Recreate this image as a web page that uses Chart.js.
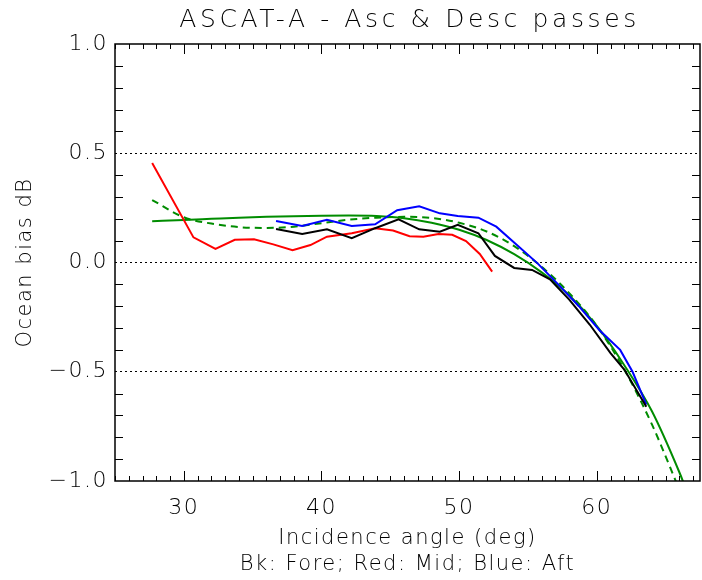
<!DOCTYPE html>
<html>
<head>
<meta charset="utf-8">
<script src="https://cdn.jsdelivr.net/npm/chart.js@4"></script>
<style>
  html, body { margin: 0; padding: 0; background: #fff; }
  #wrap { width: 702px; height: 580px; }
</style>
</head>
<body>
<div id="wrap"><canvas id="c" width="702" height="580"></canvas></div>
<script>
const titleText = 'ASCAT-A - Asc & Desc passes'
const xTitle = ['Incidence angle (deg)', 'Bk: Fore; Red: Mid; Blue: Aft']
const yTitle = 'Ocean bias dB'

const xTicks = [30, 40, 50, 60]
const yTicks = [-1.0, -0.5, 0.0, 0.5, 1.0]
const yTickLabels = ['\u22121.0', '\u22120.5', '0.0', '0.5', '1.0']

// Fore beam (black)
const foreAngle = [36.7, 38.6, 40.4, 42.2, 43.9, 45.6, 47.1, 48.6, 49.9, 51.4, 52.6, 54.0, 55.3, 56.6, 58.0, 59.5, 61.0, 62.0, 63.6]
const foreBias  = [0.153, 0.130, 0.152, 0.111, 0.157, 0.198, 0.152, 0.141, 0.172, 0.134, 0.030, -0.025, -0.034, -0.077, -0.170, -0.285, -0.415, -0.490, -0.660]

// Mid beam (red)
const midAngle = [27.7, 30.7, 32.3, 33.7, 35.1, 36.5, 37.9, 39.2, 40.4, 42.2, 43.9, 45.2, 46.4, 47.4, 48.5, 49.5, 50.5, 51.5, 52.4]
const midBias  = [0.455, 0.115, 0.062, 0.104, 0.106, 0.083, 0.056, 0.080, 0.118, 0.134, 0.157, 0.146, 0.120, 0.118, 0.130, 0.127, 0.098, 0.039, -0.042]

// Aft beam (blue)
const aftAngle = [36.7, 38.6, 40.4, 42.2, 43.9, 45.5, 47.1, 48.6, 49.9, 51.4, 52.7, 54.2, 55.7, 57.2, 58.7, 60.2, 61.7, 62.6, 63.6]
const aftBias  = [0.190, 0.167, 0.195, 0.167, 0.175, 0.239, 0.257, 0.225, 0.213, 0.205, 0.164, 0.080, -0.004, -0.100, -0.200, -0.310, -0.400, -0.500, -0.650]

// green fits
const fitAngle = [27.7, 30, 32, 34, 36, 38, 40, 42, 44, 46, 48, 50, 52, 54, 56, 58, 60, 62, 64, 66, 66.5]
const fitBias  = [0.189, 0.195, 0.200, 0.205, 0.209, 0.212, 0.214, 0.215, 0.213, 0.203, 0.182, 0.150, 0.103, 0.038, -0.045, -0.150, -0.290, -0.470, -0.680, -0.960, -1.040]
const fit2Angle = [27.7, 30, 32, 34, 36, 38, 40, 42, 44, 46, 48, 50, 52, 54, 56, 58, 60, 62, 64, 66]
const fit2Bias  = [0.286, 0.207, 0.178, 0.162, 0.158, 0.164, 0.180, 0.196, 0.205, 0.209, 0.204, 0.182, 0.142, 0.075, -0.020, -0.140, -0.290, -0.490, -0.740, -1.040]

const pts = (xs, ys) => xs.map((v, i) => ({ x: v, y: ys[i] }))
const FONT = 'DejaVu Sans'
const green = '#008c00'

// wider, lighter lettering like the original plot font
const spacing = {
    id: 'spacing',
    beforeDraw(chart) {
        chart.ctx.letterSpacing = '1.5px'
    }
}

const frameTicks = {
    id: 'frameTicks',
    afterDatasetsDraw(chart) {
        const { ctx, chartArea: a, scales: { x, y } } = chart
        ctx.save()
        ctx.strokeStyle = '#000'
        ctx.lineWidth = 1
        ctx.beginPath()
        for (let v = Math.ceil(x.min); v <= x.max; v++) {
            const px = Math.round(x.getPixelForValue(v)) + 0.5
            const len = v % 10 === 0 ? 10 : 5
            ctx.moveTo(px, a.bottom); ctx.lineTo(px, a.bottom - len)
            ctx.moveTo(px, a.top); ctx.lineTo(px, a.top + len)
        }
        for (let k = -10; k <= 10; k++) {
            if (k % 5 === 0) continue
            const py = Math.round(y.getPixelForValue(k / 10)) + 0.5
            ctx.moveTo(a.left, py); ctx.lineTo(a.left + 8, py)
            ctx.moveTo(a.right, py); ctx.lineTo(a.right - 8, py)
        }
        ctx.stroke()
        ctx.lineWidth = 1.5
        ctx.strokeRect(a.left, a.top, a.right - a.left, a.bottom - a.top)
        // title over the plot box
        ctx.fillStyle = '#000'
        ctx.font = '200 25px "' + FONT + '"'
        ctx.letterSpacing = '3.6px'
        ctx.textAlign = 'center'
        ctx.textBaseline = 'middle'
        ctx.fillText(titleText, (a.left + a.right) / 2 + 2, 20)
        ctx.restore()
    }
}

new Chart(document.getElementById('c'), {
    type: 'line',
    data: {
        datasets: [
            { data: pts(foreAngle, foreBias), borderColor: '#000000', borderWidth: 2, pointRadius: 0, tension: 0 },
            { data: pts(midAngle, midBias), borderColor: '#ff0000', borderWidth: 2, pointRadius: 0, tension: 0 },
            { data: pts(aftAngle, aftBias), borderColor: '#0000ff', borderWidth: 2, pointRadius: 0, tension: 0 },
            { data: pts(fitAngle, fitBias), borderColor: green, borderWidth: 2, pointRadius: 0, tension: 0.4, cubicInterpolationMode: 'monotone' },
            { data: pts(fit2Angle, fit2Bias), borderColor: green, borderWidth: 2, borderDash: [7, 5], pointRadius: 0, tension: 0.4, cubicInterpolationMode: 'monotone' },
        ]
    },
    options: {
        responsive: false,
        animation: false,
        events: [],
        layout: { padding: { top: 44, right: 2, left: 0, bottom: 0 } },
        plugins: { legend: { display: false }, tooltip: { enabled: false }, title: { display: false } },
        elements: { line: { fill: false } },
        clip: 0,
        scales: {
            x: {
                type: 'linear',
                min: 25,
                max: 67.5,
                afterBuildTicks: (s) => { s.ticks = xTicks.map(v => ({ value: v })) },
                afterFit: (s) => { s.height = 99 },
                grid: { display: false, drawTicks: false },
                border: { display: false },
                ticks: { color: '#000', padding: 14, font: { family: FONT, size: 22, weight: 200 }, callback: (v) => String(v) },
                title: { display: true, text: xTitle, color: '#000', padding: { top: 0, bottom: 2 }, font: { family: FONT, size: 21, weight: 200, lineHeight: 1.25 } }
            },
            y: {
                type: 'linear',
                min: -1,
                max: 1,
                afterBuildTicks: (s) => { s.ticks = yTicks.map(v => ({ value: v })) },
                afterFit: (s) => { s.width = 115 },
                grid: {
                    drawTicks: false,
                    color: (c) => Math.abs(c.tick.value) === 1 ? 'rgba(0,0,0,0)' : '#000',
                    lineWidth: 1
                },
                border: { display: false, dash: [2, 3] },
                ticks: { color: '#000', padding: 7, font: { family: FONT, size: 22, weight: 200 }, callback: (v) => yTickLabels[yTicks.indexOf(v)] },
                title: { display: true, text: yTitle, color: '#000', padding: { top: 12 }, font: { family: FONT, size: 21, weight: 200, lineHeight: 1.25 } }
            }
        }
    },
    plugins: [spacing, frameTicks]
})
</script>
</body>
</html>
